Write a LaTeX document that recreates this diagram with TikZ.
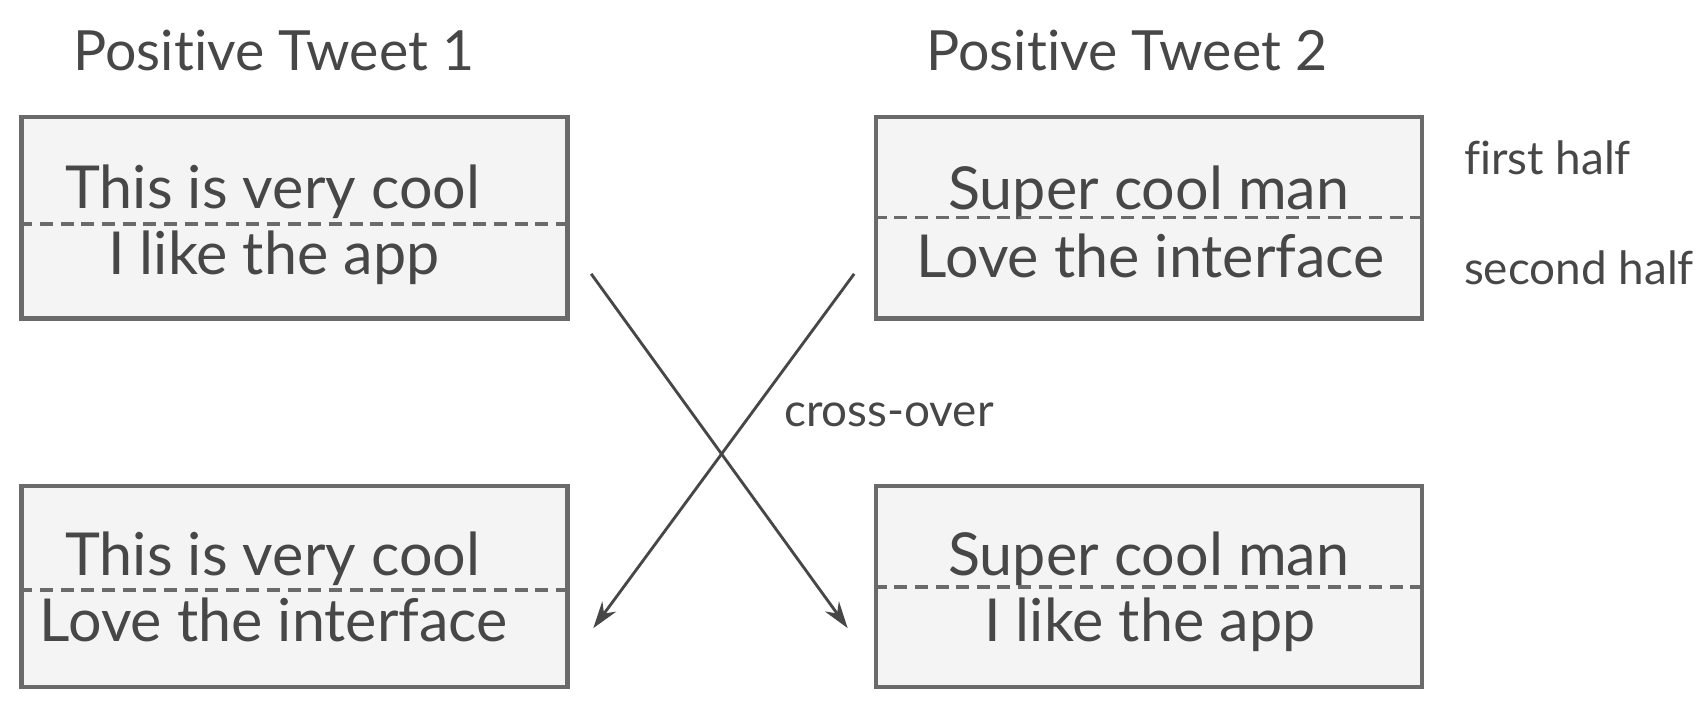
\documentclass[tikz,border=0pt]{standalone}
\usepackage{fontspec}
\setmainfont{Lato}[Ligatures=NoCommon]
\usetikzlibrary{arrows.meta}
\definecolor{boxgray}{HTML}{F4F4F4}
\definecolor{linegray}{HTML}{6A6A6A}
\definecolor{textgray}{HTML}{474747}
\begin{document}
\begin{tikzpicture}[
	x=0.01cm, y=-0.01cm,
	tweetbox/.style={rectangle, draw=linegray, fill=boxgray, line width=1.1pt, minimum width=5.02cm, minimum height=1.85cm, inner sep=0pt},
	halftext/.style={anchor=base, text=textgray, inner sep=0pt, font=\fontsize{15.5}{15.5}\selectfont},
	titletext/.style={anchor=base, text=textgray, inner sep=0pt, font=\fontsize{14.5}{14.5}\selectfont},
	notetext/.style={text=textgray, inner sep=0pt, font=\fontsize{12}{12}\selectfont},
	divider/.style={draw=linegray, line width=0.9pt, dash pattern=on 3.4pt off 2pt},
	crossarrow/.style={draw=textgray, line width=0.75pt, -{Stealth[length=7pt, width=4.5pt]}},
	]
	\useasboundingbox (0,0) rectangle (1568,652);
	
	%Nodes
	\node[titletext]	(titleA)	at (252,65)		{Positive Tweet 1};
	\node[titletext]	(titleB)	at (1037,65)	{Positive Tweet 2};
	\node[tweetbox]		(tweetA)	at (271,200.5)	{};
	\node[tweetbox]		(tweetB)	at (1057,200.5)	{};
	\node[tweetbox]		(childA)	at (271,539.5)	{};
	\node[tweetbox]		(childB)	at (1057,539.5)	{};
	\node[halftext]		(tweetAone)	at (251,192)	{This is very cool};
	\node[halftext]		(tweetAtwo)	at (252,253)	{I like the app};
	\node[halftext]		(tweetBone)	at (1057,193)	{Super cool man};
	\node[halftext]		(tweetBtwo)	at (1059,255)	{Love the interface};
	\node[halftext]		(childAone)	at (251,530)	{This is very cool};
	\node[halftext]		(childAtwo)	at (252,590)	{Love the interface};
	\node[halftext]		(childBone)	at (1057,530)	{Super cool man};
	\node[halftext]		(childBtwo)	at (1058,590)	{I like the app};
	\node[notetext]		(firsthalf)	at (1424,145)	{first half};
	\node[notetext]		(secondhalf) at (1453,246)	{second half};
	\node[notetext]		(crossover)	at (818,382)	{cross-over};
	
	%Dividers
	\draw[divider] (tweetA.west |- 0,206) -- (tweetA.east |- 0,206);
	\draw[divider] (tweetB.west |- 0,200) -- (tweetB.east |- 0,200);
	\draw[divider] (childA.west |- 0,543) -- (childA.east |- 0,543);
	\draw[divider] (childB.west |- 0,540) -- (childB.east |- 0,540);
	
	%Lines
	\coordinate (fromA) at (544,252);
	\coordinate (fromB) at (786,252);
	\coordinate (toA)	at (546,578);
	\coordinate (toB)	at (780,578);
	\draw[crossarrow] (fromA) -- (toB);
	\draw[crossarrow] (fromB) -- (toA);
	
\end{tikzpicture}
\end{document}
